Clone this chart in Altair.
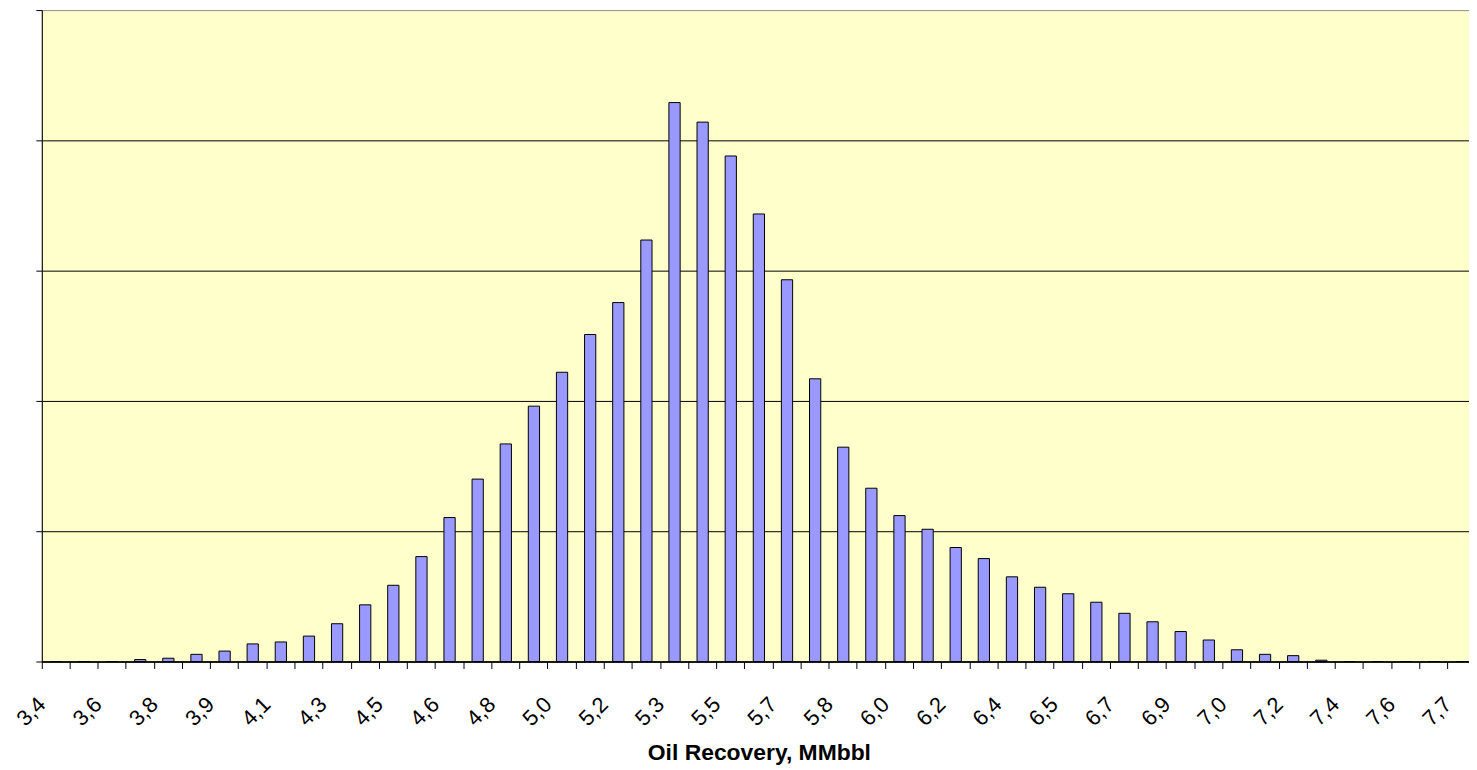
import altair as alt
import pandas as pd

# Tick labels shown on every other bin (decimal comma as in the original)
tick_labels = ["3,4", "3,6", "3,8", "3,9", "4,1", "4,3", "4,5", "4,6", "4,8", "5,0",
               "5,2", "5,3", "5,5", "5,7", "5,8", "6,0", "6,2", "6,4", "6,5", "6,7",
               "6,9", "7,0", "7,2", "7,4", "7,6", "7,7"]

# Frequency (%) of each bin
frequency = [0, 0, 0, 0.03, 0.05, 0.11, 0.16, 0.27, 0.30, 0.39,
             0.58, 0.87, 1.17, 1.61, 2.21, 2.80, 3.34, 3.92, 4.44, 5.02,
             5.51, 6.47, 8.58, 8.28, 7.76, 6.87, 5.86, 4.34, 3.29, 2.66,
             2.24, 2.03, 1.75, 1.58, 1.30, 1.14, 1.04, 0.91, 0.74, 0.61,
             0.46, 0.33, 0.18, 0.11, 0.09, 0.02, 0, 0, 0, 0, 0]

bins = list(range(len(frequency)))
df = pd.DataFrame({"bin": bins, "frequency": frequency})

labels_js = "[" + ",".join("'" + s + "'" for s in tick_labels) + "]"
label_expr = "datum.value % 2 == 0 ? " + labels_js + "[datum.value / 2] : ''"

bars = alt.Chart(df).mark_bar(
    fill="#9999FF", stroke="#000000", strokeWidth=1,
    width=alt.RelativeBandSize(0.4)
).encode(
    x=alt.X("bin:O",
            scale=alt.Scale(domain=bins, range=[0, 1442], paddingInner=0, paddingOuter=0),
            axis=alt.Axis(title="Oil Recovery, MMbbl", labelExpr=label_expr,
                          labelAngle=-45, labelAlign="right", labelBaseline="top",
                          labelPadding=25, labelOffset=-21, bandPosition=0,
                          labelOverlap=False, labelBound=False, labelFlush=False,
                          tickSize=7, tickColor="#000000", domainColor="#000000",
                          domainWidth=1.5,
                          labelFont="Liberation Sans", labelFontSize=22, labelColor="#000000",
                          titleFont="Liberation Sans", titleFontSize=23, titleFontWeight="bold",
                          titleColor="#000000", titleY=99, titleBaseline="alphabetic")),
    y=alt.Y("frequency:Q",
            scale=alt.Scale(domain=[0, 10], nice=False),
            axis=alt.Axis(values=[0, 2, 4, 6, 8, 10], labels=False, title=None,
                          tickSize=6, tickColor="#000000", domainColor="#000000",
                          grid=True,
                          gridColor=alt.condition("datum.value == 10", alt.value("#999999"), alt.value("#000000")),
                          gridWidth=1))
)

chart = bars.properties(
    width=1435, height=655,
    padding={"left": 34, "top": 0, "right": 0, "bottom": 106},
    autosize=alt.AutoSizeParams(type="none"),
    background="#FFFFFF"
).configure_view(fill="#FFFFCC", stroke="#999999", strokeWidth=1)

chart.save("out.html", embed_options={"renderer": "svg", "actions": False})
